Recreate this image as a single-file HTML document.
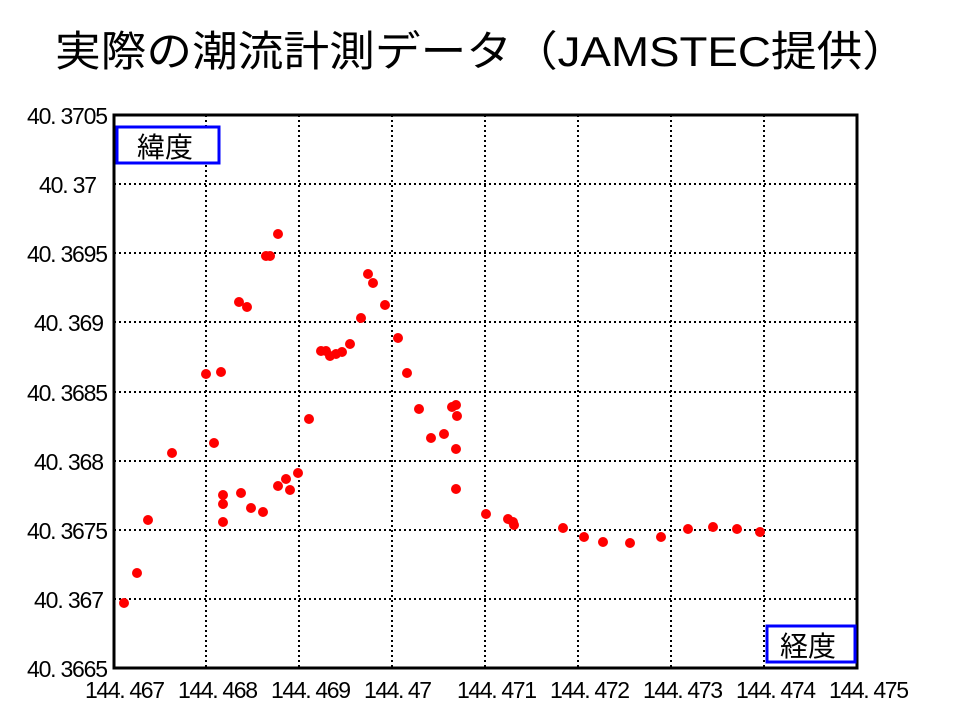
<!DOCTYPE html>
<html><head><meta charset="utf-8"><style>body{margin:0;background:#fff}</style></head>
<body>
<svg width="960" height="720" xmlns="http://www.w3.org/2000/svg" font-family="'Liberation Sans','Noto Sans CJK JP',sans-serif">
<rect width="960" height="720" fill="#fff"/>
<text x="55" y="66" font-size="42" textLength="853" lengthAdjust="spacingAndGlyphs">実際の潮流計測データ（JAMSTEC提供）</text>
<g stroke="#000" stroke-width="2" stroke-dasharray="2,3">
<line x1="206" y1="115" x2="206" y2="668"/><line x1="299" y1="115" x2="299" y2="668"/><line x1="392" y1="115" x2="392" y2="668"/><line x1="485" y1="115" x2="485" y2="668"/><line x1="578" y1="115" x2="578" y2="668"/><line x1="671" y1="115" x2="671" y2="668"/><line x1="764" y1="115" x2="764" y2="668"/>
<line x1="114" y1="184" x2="857" y2="184"/><line x1="114" y1="253" x2="857" y2="253"/><line x1="114" y1="322" x2="857" y2="322"/><line x1="114" y1="392" x2="857" y2="392"/><line x1="114" y1="461" x2="857" y2="461"/><line x1="114" y1="530" x2="857" y2="530"/><line x1="114" y1="599" x2="857" y2="599"/>
</g>
<rect x="114" y="115" width="743" height="553" fill="none" stroke="#000" stroke-width="3"/>
<g font-size="23" lengthAdjust="spacingAndGlyphs">
<text x="27" y="124" textLength="81">40. 3705</text><text x="39" y="193" textLength="58">40. 37</text><text x="27" y="262" textLength="81">40. 3695</text><text x="34" y="331" textLength="70">40. 369</text><text x="27" y="401" textLength="81">40. 3685</text><text x="34" y="470" textLength="70">40. 368</text><text x="27" y="539" textLength="81">40. 3675</text><text x="34" y="608" textLength="70">40. 367</text><text x="27" y="677" textLength="81">40. 3665</text>
</g>
<g font-size="23" lengthAdjust="spacingAndGlyphs">
<text x="85" y="698" textLength="80">144. 467</text><text x="178" y="698" textLength="80">144. 468</text><text x="271" y="698" textLength="80">144. 469</text><text x="364" y="698" textLength="68">144. 47</text><text x="457" y="698" textLength="80">144. 471</text><text x="550" y="698" textLength="80">144. 472</text><text x="643" y="698" textLength="80">144. 473</text><text x="736" y="698" textLength="80">144. 474</text><text x="829" y="698" textLength="80">144. 475</text>
</g>
<rect x="117" y="127" width="102" height="36" fill="#fff" stroke="#00f" stroke-width="3"/>
<text x="137" y="157" font-size="28">緯度</text>
<rect x="767" y="626" width="88" height="36" fill="#fff" stroke="#00f" stroke-width="3"/>
<text x="780" y="656" font-size="28">経度</text>
<g fill="#f00">
<circle cx="124" cy="603" r="5"/><circle cx="137" cy="573" r="5"/><circle cx="148" cy="520" r="5"/><circle cx="172" cy="453" r="5"/><circle cx="206" cy="374" r="5"/><circle cx="214" cy="443" r="5"/><circle cx="221" cy="372" r="5"/><circle cx="223" cy="495" r="5"/><circle cx="223" cy="504" r="5"/><circle cx="223" cy="522" r="5"/><circle cx="239" cy="302" r="5"/><circle cx="241" cy="493" r="5"/><circle cx="247" cy="307" r="5"/><circle cx="251" cy="508" r="5"/><circle cx="263" cy="512" r="5"/><circle cx="266" cy="256" r="5"/><circle cx="270" cy="256" r="5"/><circle cx="278" cy="234" r="5"/><circle cx="278" cy="486" r="5"/><circle cx="286" cy="479" r="5"/><circle cx="290" cy="490" r="5"/><circle cx="298" cy="473" r="5"/><circle cx="309" cy="419" r="5"/><circle cx="321" cy="351" r="5"/><circle cx="326" cy="351" r="5"/><circle cx="330" cy="356" r="5"/><circle cx="336" cy="354" r="5"/><circle cx="342" cy="352" r="5"/><circle cx="350" cy="344" r="5"/><circle cx="361" cy="318" r="5"/><circle cx="368" cy="274" r="5"/><circle cx="373" cy="283" r="5"/><circle cx="385" cy="305" r="5"/><circle cx="398" cy="338" r="5"/><circle cx="407" cy="373" r="5"/><circle cx="419" cy="409" r="5"/><circle cx="431" cy="438" r="5"/><circle cx="444" cy="434" r="5"/><circle cx="452" cy="407" r="5"/><circle cx="456" cy="405" r="5"/><circle cx="457" cy="416" r="5"/><circle cx="456" cy="449" r="5"/><circle cx="456" cy="489" r="5"/><circle cx="486" cy="514" r="5"/><circle cx="508" cy="519" r="5"/><circle cx="513" cy="522" r="5"/><circle cx="514" cy="525" r="5"/><circle cx="563" cy="528" r="5"/><circle cx="584" cy="537" r="5"/><circle cx="603" cy="542" r="5"/><circle cx="630" cy="543" r="5"/><circle cx="661" cy="537" r="5"/><circle cx="688" cy="529" r="5"/><circle cx="713" cy="527" r="5"/><circle cx="737" cy="529" r="5"/><circle cx="760" cy="532" r="5"/>
</g>
</svg>
</body></html>
